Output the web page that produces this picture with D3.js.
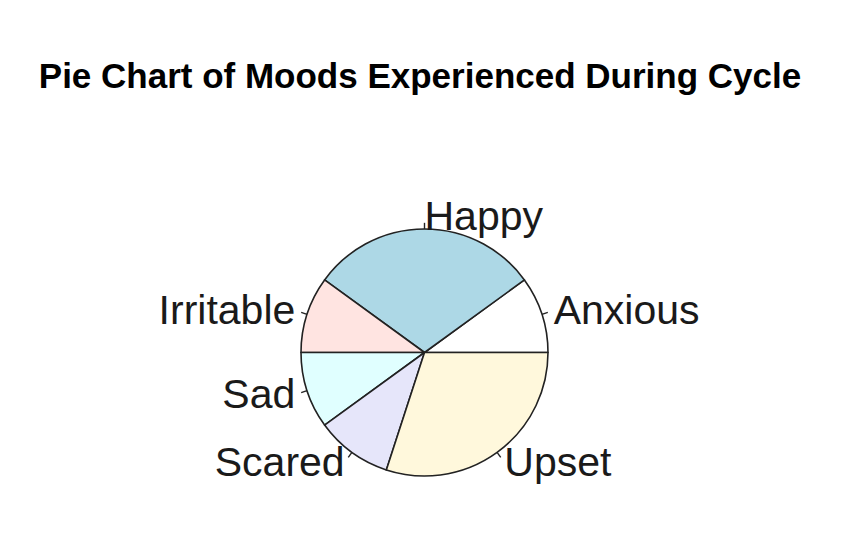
<!DOCTYPE html>
<html>
<head>
<meta charset="utf-8">
<script src="https://cdn.jsdelivr.net/npm/d3@7"></script>
<style>
  html, body { margin: 0; padding: 0; background: #fff; }
  svg { display: block; }
</style>
</head>
<body>
<svg id="chart" width="841" height="536"></svg>
<script>
const moods = ["Anxious", "Happy", "Irritable", "Sad", "Scared", "Upset"];
const counts = [1, 3, 1, 1, 1, 3];
const sliceColors = ["#FFFFFF", "#ADD8E6", "#FFE4E1", "#E0FFFF", "#E6E6FA", "#FFF8DC"];
const title = "Pie Chart of Moods Experienced During Cycle";

const svg = d3.select("#chart");
const cx = 424.5, cy = 352.5, r = 123.5;

svg.append("text")
  .attr("x", 420).attr("y", 88)
  .attr("text-anchor", "middle")
  .attr("font-family", "'Liberation Sans', Arial, sans-serif")
  .attr("font-weight", "bold")
  .attr("font-size", 35)
  .attr("fill", "#000")
  .text(title);

const data = moods.map((m, i) => ({ mood: m, value: counts[i], color: sliceColors[i] }));

// R's pie: counterclockwise starting at 3 o'clock
const pie = d3.pie().sort(null).value(d => d.value)
  .startAngle(Math.PI / 2).endAngle(Math.PI / 2 - 2 * Math.PI);
const arcs = pie(data);
const arc = d3.arc().innerRadius(0).outerRadius(r);

const g = svg.append("g").attr("transform", `translate(${cx},${cy})`);

g.selectAll("path.slice").data(arcs).enter().append("path")
  .attr("class", "slice")
  .attr("d", arc)
  .attr("fill", d => d.data.color)
  .attr("stroke", "#222")
  .attr("stroke-width", 1.6)
  .attr("stroke-linejoin", "round");

arcs.forEach(d => {
  const a = (d.startAngle + d.endAngle) / 2;
  const ux = Math.sin(a), uy = -Math.cos(a);
  g.append("line")
    .attr("x1", ux * r).attr("y1", uy * r)
    .attr("x2", ux * r * 1.05).attr("y2", uy * r * 1.05)
    .attr("stroke", "#222").attr("stroke-width", 1.4);
  g.append("text")
    .attr("x", ux * r * 1.1).attr("y", uy * r * 1.1)
    .attr("dy", "0.33em")
    .attr("text-anchor", ux >= -1e-9 ? "start" : "end")
    .attr("font-family", "'Liberation Sans', Arial, sans-serif")
    .attr("font-size", 41)
    .attr("fill", "#1a1a1a")
    .text(d.data.mood);
});
</script>
</body>
</html>
